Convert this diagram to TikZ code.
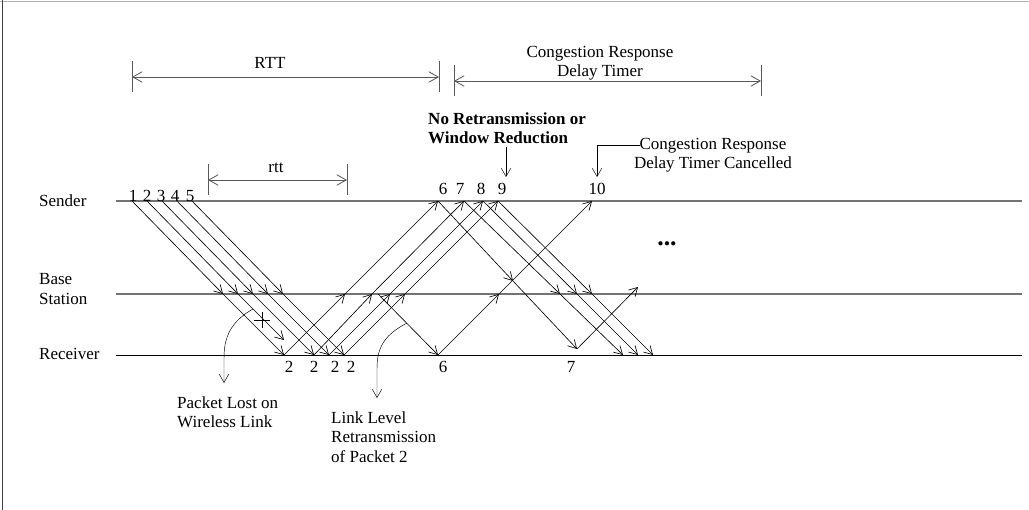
\documentclass[tikz,border=0pt]{standalone}
\usepackage{fontspec}
\setmainfont{Liberation Serif}
\usetikzlibrary{arrows.meta}

\begin{document}
\begin{tikzpicture}[x=0.03cm, y=-0.03cm, >={Straight Barb[length=7pt,width=8pt]},
    font=\fontsize{14.5}{16.5}\selectfont, every node/.style={inner sep=0pt}]
    % Styles
    \tikzstyle{pkt} = [->, line width=0.55pt]
    \tikzstyle{level} = [line width=0.9pt, draw=black!55]
    \tikzstyle{dim} = [{Straight Barb[length=8pt,width=9pt]}-{Straight Barb[length=8pt,width=9pt]}, line width=0.7pt, draw=black!65]
    \tikzstyle{tick} = [line width=0.7pt, draw=black!65]
    \tikzstyle{num} = [anchor=base]
    \tikzstyle{boldlbl} = [font=\fontsize{14.5}{16.5}\selectfont\bfseries]

    \useasboundingbox (0,0) rectangle (1029,510);

    % Frame
    \draw[black!30, line width=0.8pt] (0,1) -- (1029,1);
    \draw[black!75, line width=0.8pt] (2,0) -- (2,510);

    % Levels
    \node [anchor=west] (sender) at (39,201) {Sender};
    \node [anchor=west, align=left] (base) at (39,289) {Base\\Station};
    \node [anchor=west] (receiver) at (39,354) {Receiver};
    \draw [level] (116,201) -- (1022,201);
    \draw [level] (116,294) -- (1022,294);
    \draw [line width=0.7pt] (116,355) -- (1022,355);

    % Time spans
    \draw [tick] (132,61) -- (132,92);
    \draw [tick] (439,61) -- (439,92);
    \draw [dim] (132,77) -- (439,77);
    \node (RTT) at (270,63) {RTT};

    \draw [tick] (454,65) -- (454,96);
    \draw [tick] (761,65) -- (761,96);
    \draw [dim] (454,81) -- (761,81);
    \node [align=center] (timer) at (600,63) {Congestion Response\\Delay Timer};

    \draw [tick] (208,164) -- (208,195);
    \draw [tick] (347,164) -- (347,195);
    \draw [dim] (208,180) -- (347,180);
    \node (rtt) at (276,168) {rtt};

    % Points
    \coordinate (p1s) at (132,201); \coordinate (p1b) at (223,294); \coordinate (p1r) at (284,355);
    \coordinate (p2s) at (147,201); \coordinate (p2b) at (238,294); \coordinate (p2x) at (284,340);
    \coordinate (p3s) at (162,201); \coordinate (p3b) at (253,294); \coordinate (p3r) at (314,355);
    \coordinate (p4s) at (177,201); \coordinate (p4b) at (268,294); \coordinate (p4r) at (329,355);
    \coordinate (p5s) at (192,201); \coordinate (p5b) at (283,294); \coordinate (p5r) at (344,355);

    \coordinate (a1b) at (345,294); \coordinate (a1s) at (438,201);
    \coordinate (a2b) at (372,294); \coordinate (a2s) at (464,201);
    \coordinate (a3b) at (390,294); \coordinate (a3s) at (483,201);
    \coordinate (a4b) at (405,294); \coordinate (a4s) at (498,201);

    \coordinate (llb) at (378,294); \coordinate (llr) at (438,355);
    \coordinate (a6b) at (499,294); \coordinate (a6s) at (592,201);

    \coordinate (p6m) at (513,281); \coordinate (p6r) at (577,349);
    \coordinate (a7b) at (638,287);
    \coordinate (p7b) at (560,294); \coordinate (p7r) at (623,355);
    \coordinate (p8b) at (577,294); \coordinate (p8r) at (638,355);
    \coordinate (p9b) at (592,294); \coordinate (p9r) at (653,355);

    % Packets 1-5
    \draw [pkt] (p1s) -- (p1b); \draw [pkt] (p1b) -- (p1r);
    \draw [pkt] (p2s) -- (p2b); \draw [pkt] (p2b) -- (p2x);
    \draw [pkt] (p3s) -- (p3b); \draw [pkt] (p3b) -- (p3r);
    \draw [pkt] (p4s) -- (p4b); \draw [pkt] (p4b) -- (p4r);
    \draw [pkt] (p5s) -- (p5b); \draw [pkt] (p5b) -- (p5r);
    \draw [line width=0.7pt] (254,320) -- (270,320);
    \draw [line width=0.7pt] (262,312) -- (262,328);

    % Duplicate acks
    \draw [pkt] (p1r) -- (a1b); \draw [pkt] (a1b) -- (a1s);
    \draw [pkt] (p3r) -- (a2b); \draw [pkt] (a2b) -- (a2s);
    \draw [pkt] (p4r) -- (a3b); \draw [pkt] (a3b) -- (a3s);
    \draw [pkt] (p5r) -- (a4b); \draw [pkt] (a4b) -- (a4s);

    % Link level retransmission and ack 6
    \draw [pkt] (llb) -- (llr);
    \draw [pkt] (llr) -- (a6b); \draw [pkt] (a6b) -- (a6s);

    % Packets 6-9
    \draw [pkt] (a1s) -- (p6m); \draw [pkt] (p6m) -- (p6r);
    \draw [pkt] (p6r) -- (a7b);
    \draw [pkt] (a2s) -- (p7b); \draw [pkt] (p7b) -- (p7r);
    \draw [pkt] (a3s) -- (p8b); \draw [pkt] (p8b) -- (p8r);
    \draw [pkt] (a4s) -- (p9b); \draw [pkt] (p9b) -- (p9r);

    % Numbers
    \node [num] (n1) at (133,202) {1};
    \node [num] (n2) at (147,202) {2};
    \node [num] (n3) at (161,202) {3};
    \node [num] (n4) at (175,202) {4};
    \node [num] (n5) at (190,202) {5};
    \node [num] (n6) at (443,195) {6};
    \node [num] (n7) at (460,195) {7};
    \node [num] (n8) at (481,195) {8};
    \node [num] (n9) at (502,195) {9};
    \node [num] (n10) at (597,195) {10};
    \node [num] (d1) at (289,372) {2};
    \node [num] (d2) at (314,372) {2};
    \node [num] (d3) at (335,372) {2};
    \node [num] (d4) at (351,372) {2};
    \node [num] (c6) at (443,372) {6};
    \node [num] (c7) at (571,372) {7};
    \node (dots) at (667,244) {\fontsize{22}{22}\selectfont\bfseries ...};

    % Notes
    \node [boldlbl, anchor=west, align=left] (noretx) at (428,128) {No Retransmission or\\Window Reduction};
    \coordinate (noretxA) at (506,147); \coordinate (noretxB) at (506,177);
    \draw [->] (noretxA) -- (noretxB);

    \node [align=center] (cancel) at (713,155) {Congestion Response\\Delay Timer Cancelled};
    \coordinate (cancelA) at (640,145); \coordinate (cancelB) at (597,177);
    \draw [->] (cancelA) -| (cancelB);

    \node [anchor=west, align=left] (lost) at (177,412) {Packet Lost on\\Wireless Link};
    \coordinate (lossA) at (253,309); \coordinate (lossTip) at (224,383);
    \draw [->] (lossA) .. controls (230,322) and (224,338) .. (224,358) -- (lossTip);

    \node [anchor=west, align=left] (llretx) at (331,437) {Link Level\\Retransmission\\of Packet 2};
    \coordinate (llA) at (407,323); \coordinate (llTip) at (377,398);
    \draw [->] (llA) .. controls (386,334) and (377,346) .. (377,368) -- (llTip);
\end{tikzpicture}
\end{document}
